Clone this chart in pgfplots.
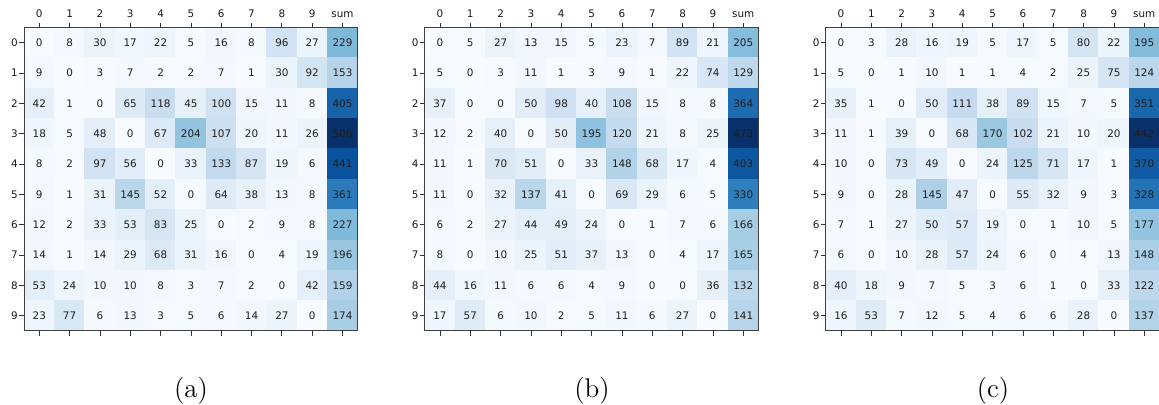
\documentclass[border=0pt]{standalone}
\usepackage{pgfplots}
\usepackage{pgfplotstable}
\usepackage{fontspec}
\pgfplotsset{compat=1.18}
\newfontfamily\dejavu{DejaVu Sans}

\pgfplotstableread[row sep=\\,header=false]{
0\\ 8\\ 30\\ 17\\ 22\\ 5\\ 16\\ 8\\ 96\\ 27\\ 229\\
9\\ 0\\ 3\\ 7\\ 2\\ 2\\ 7\\ 1\\ 30\\ 92\\ 153\\
42\\ 1\\ 0\\ 65\\ 118\\ 45\\ 100\\ 15\\ 11\\ 8\\ 405\\
18\\ 5\\ 48\\ 0\\ 67\\ 204\\ 107\\ 20\\ 11\\ 26\\ 506\\
8\\ 2\\ 97\\ 56\\ 0\\ 33\\ 133\\ 87\\ 19\\ 6\\ 441\\
9\\ 1\\ 31\\ 145\\ 52\\ 0\\ 64\\ 38\\ 13\\ 8\\ 361\\
12\\ 2\\ 33\\ 53\\ 83\\ 25\\ 0\\ 2\\ 9\\ 8\\ 227\\
14\\ 1\\ 14\\ 29\\ 68\\ 31\\ 16\\ 0\\ 4\\ 19\\ 196\\
53\\ 24\\ 10\\ 10\\ 8\\ 3\\ 7\\ 2\\ 0\\ 42\\ 159\\
23\\ 77\\ 6\\ 13\\ 3\\ 5\\ 6\\ 14\\ 27\\ 0\\ 174\\
}\dataA

\pgfplotstableread[row sep=\\,header=false]{
0\\ 5\\ 27\\ 13\\ 15\\ 5\\ 23\\ 7\\ 89\\ 21\\ 205\\
5\\ 0\\ 3\\ 11\\ 1\\ 3\\ 9\\ 1\\ 22\\ 74\\ 129\\
37\\ 0\\ 0\\ 50\\ 98\\ 40\\ 108\\ 15\\ 8\\ 8\\ 364\\
12\\ 2\\ 40\\ 0\\ 50\\ 195\\ 120\\ 21\\ 8\\ 25\\ 473\\
11\\ 1\\ 70\\ 51\\ 0\\ 33\\ 148\\ 68\\ 17\\ 4\\ 403\\
11\\ 0\\ 32\\ 137\\ 41\\ 0\\ 69\\ 29\\ 6\\ 5\\ 330\\
6\\ 2\\ 27\\ 44\\ 49\\ 24\\ 0\\ 1\\ 7\\ 6\\ 166\\
8\\ 0\\ 10\\ 25\\ 51\\ 37\\ 13\\ 0\\ 4\\ 17\\ 165\\
44\\ 16\\ 11\\ 6\\ 6\\ 4\\ 9\\ 0\\ 0\\ 36\\ 132\\
17\\ 57\\ 6\\ 10\\ 2\\ 5\\ 11\\ 6\\ 27\\ 0\\ 141\\
}\dataB

\pgfplotstableread[row sep=\\,header=false]{
0\\ 3\\ 28\\ 16\\ 19\\ 5\\ 17\\ 5\\ 80\\ 22\\ 195\\
5\\ 0\\ 1\\ 10\\ 1\\ 1\\ 4\\ 2\\ 25\\ 75\\ 124\\
35\\ 1\\ 0\\ 50\\ 111\\ 38\\ 89\\ 15\\ 7\\ 5\\ 351\\
11\\ 1\\ 39\\ 0\\ 68\\ 170\\ 102\\ 21\\ 10\\ 20\\ 442\\
10\\ 0\\ 73\\ 49\\ 0\\ 24\\ 125\\ 71\\ 17\\ 1\\ 370\\
9\\ 0\\ 28\\ 145\\ 47\\ 0\\ 55\\ 32\\ 9\\ 3\\ 328\\
7\\ 1\\ 27\\ 50\\ 57\\ 19\\ 0\\ 1\\ 10\\ 5\\ 177\\
6\\ 0\\ 10\\ 28\\ 57\\ 24\\ 6\\ 0\\ 4\\ 13\\ 148\\
40\\ 18\\ 9\\ 7\\ 5\\ 3\\ 6\\ 1\\ 0\\ 33\\ 122\\
16\\ 53\\ 7\\ 12\\ 5\\ 4\\ 6\\ 6\\ 28\\ 0\\ 137\\
}\dataC

\pgfplotsset{
  cmstyle/.style={
    scale only axis,
    width=166.8pt, height=151.7pt,
    anchor=north west,
    xmin=-0.5, xmax=10.5, ymin=-0.5, ymax=9.5,
    y dir=reverse,
    xtick={0,1,2,3,4,5,6,7,8,9,10},
    xticklabels={0,1,2,3,4,5,6,7,8,9,sum},
    ytick={0,1,2,3,4,5,6,7,8,9},
    xticklabel pos=upper,
    xtick pos=both,
    ytick pos=left,
    tick align=outside,
    major tick length=2.4pt,
    every tick/.style={black!80, line width=0.4pt},
    axis line style={black!75, line width=0.5pt},
    tick label style={font=\dejavu\fontsize{5.2}{6}\selectfont, text=black!90},
    xticklabel style={yshift=-0.8pt},
    yticklabel style={xshift=2.8pt},
    /pgf/number format/assume math mode=true,
    colormap={blues}{rgb255=(247,251,255) rgb255=(222,235,247) rgb255=(198,219,239) rgb255=(158,202,225) rgb255=(107,174,214) rgb255=(66,146,198) rgb255=(33,113,181) rgb255=(8,81,156) rgb255=(8,48,107)},
    point meta min=0,
    axis on top,
  },
  cmplot/.style={
    matrix plot*, mesh/cols=11, point meta=explicit,
    nodes near coords={\pgfmathprintnumber[fixed,precision=0,assume math mode=true]{\pgfplotspointmeta}},
    every node near coord/.append style={anchor=center, text=black!88, font=\dejavu\fontsize{5.2}{6}\selectfont},
  }
}

\begin{document}
\begin{tikzpicture}
\useasboundingbox (0,0) rectangle (579.5pt,-202pt);

\begin{axis}[cmstyle, at={(12.05pt,-13.75pt)}, point meta max=506]
\addplot[cmplot] table[x index=0, y index=0, x expr={mod(\coordindex,11)}, y expr={floor(\coordindex/11)}, meta index=0] {\dataA};
\end{axis}

\begin{axis}[cmstyle, at={(212.4pt,-13.75pt)}, point meta max=473]
\addplot[cmplot] table[x index=0, y index=0, x expr={mod(\coordindex,11)}, y expr={floor(\coordindex/11)}, meta index=0] {\dataB};
\end{axis}

\begin{axis}[cmstyle, at={(412.9pt,-13.75pt)}, point meta max=442]
\addplot[cmplot] table[x index=0, y index=0, x expr={mod(\coordindex,11)}, y expr={floor(\coordindex/11)}, meta index=0] {\dataC};
\end{axis}

\node[anchor=base, font=\fontsize{13.5}{15}\selectfont] at (95.5pt,-198.5pt) {(a)};
\node[anchor=base, font=\fontsize{13.5}{15}\selectfont] at (296pt,-198.5pt) {(b)};
\node[anchor=base, font=\fontsize{13.5}{15}\selectfont] at (496.5pt,-198.5pt) {(c)};
\end{tikzpicture}
\end{document}
